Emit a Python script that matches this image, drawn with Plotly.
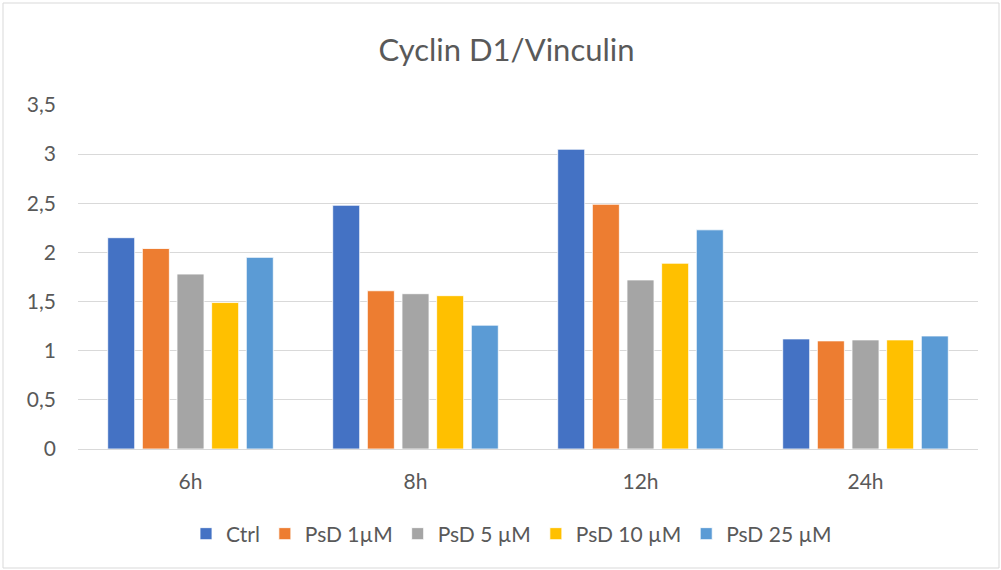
import plotly.graph_objects as go

categories = ["6h", "8h", "12h", "24h"]
series_names = ["Ctrl", "PsD 1µM", "PsD 5 µM", "PsD 10 µM", "PsD 25 µM"]
ctrl = [2.15, 2.48, 3.05, 1.12]
psd_1 = [2.04, 1.61, 2.49, 1.10]
psd_5 = [1.78, 1.58, 1.72, 1.11]
psd_10 = [1.49, 1.56, 1.89, 1.11]
psd_25 = [1.95, 1.26, 2.23, 1.15]
colors = ["#4472C4", "#ED7D31", "#A5A5A5", "#FFC000", "#5B9BD5"]
y_ticks = [0, 0.5, 1, 1.5, 2, 2.5, 3, 3.5]
y_tick_labels = ["0", "0,5", "1", "1,5", "2", "2,5", "3", "3,5"]

FONT = "Lato"
fig = go.Figure()
for name, vals, col in zip(series_names, [ctrl, psd_1, psd_5, psd_10, psd_25], colors):
    fig.add_trace(go.Bar(name=name, x=categories, y=vals, marker=dict(color=col, line=dict(color="white", width=0.8))))

L, R, T, B = 78, 23, 105, 121
W, H = 1001, 570
pw, ph = W - L - R, H - T - B
fig.update_layout(
    width=W, height=H,
    margin=dict(l=L, r=R, t=T, b=B),
    paper_bgcolor="white", plot_bgcolor="white",
    barmode="group", bargap=0.23, bargroupgap=0.22,
    font=dict(family=FONT, color="#595959", size=21),
    title=dict(text="Cyclin D1/Vinculin", x=0.506, xref="container", xanchor="center",
               y=1 - 50 / H, yref="container", yanchor="middle",
               font=dict(family=FONT, size=31, color="#595959")),
    xaxis=dict(showgrid=False, showline=False, ticks="", tickfont=dict(size=21, color="#595959"), ticklabelstandoff=18),
    yaxis=dict(range=[0, 3.5], tickvals=y_ticks, ticktext=y_tick_labels, showgrid=True, gridcolor="#D9D9D9",
               gridwidth=1, zeroline=True, zerolinecolor="#D9D9D9", zerolinewidth=1, showline=False,
               ticks="", tickfont=dict(size=21, color="#595959"), ticklabelstandoff=21),
    legend=dict(orientation="h", x=0.511, xref="container", xanchor="center", y=1 - 534 / H, yref="container",
                yanchor="middle", font=dict(size=21, color="#595959"), itemwidth=30, traceorder="normal"),
    showlegend=True,
    shapes=[dict(type="rect", xref="paper", yref="paper",
                 x0=(3 - L) / pw, x1=(W - 2 - L) / pw, y0=-(H - 2 - T - ph) / ph, y1=1 + (T - 3) / ph,
                 line=dict(color="#D9D9D9", width=1), fillcolor="rgba(0,0,0,0)", layer="below")],
)
fig.write_html("out.html", config={"displayModeBar": False},
               post_script="document.body.style.margin='0';document.body.style.overflow='hidden';")
